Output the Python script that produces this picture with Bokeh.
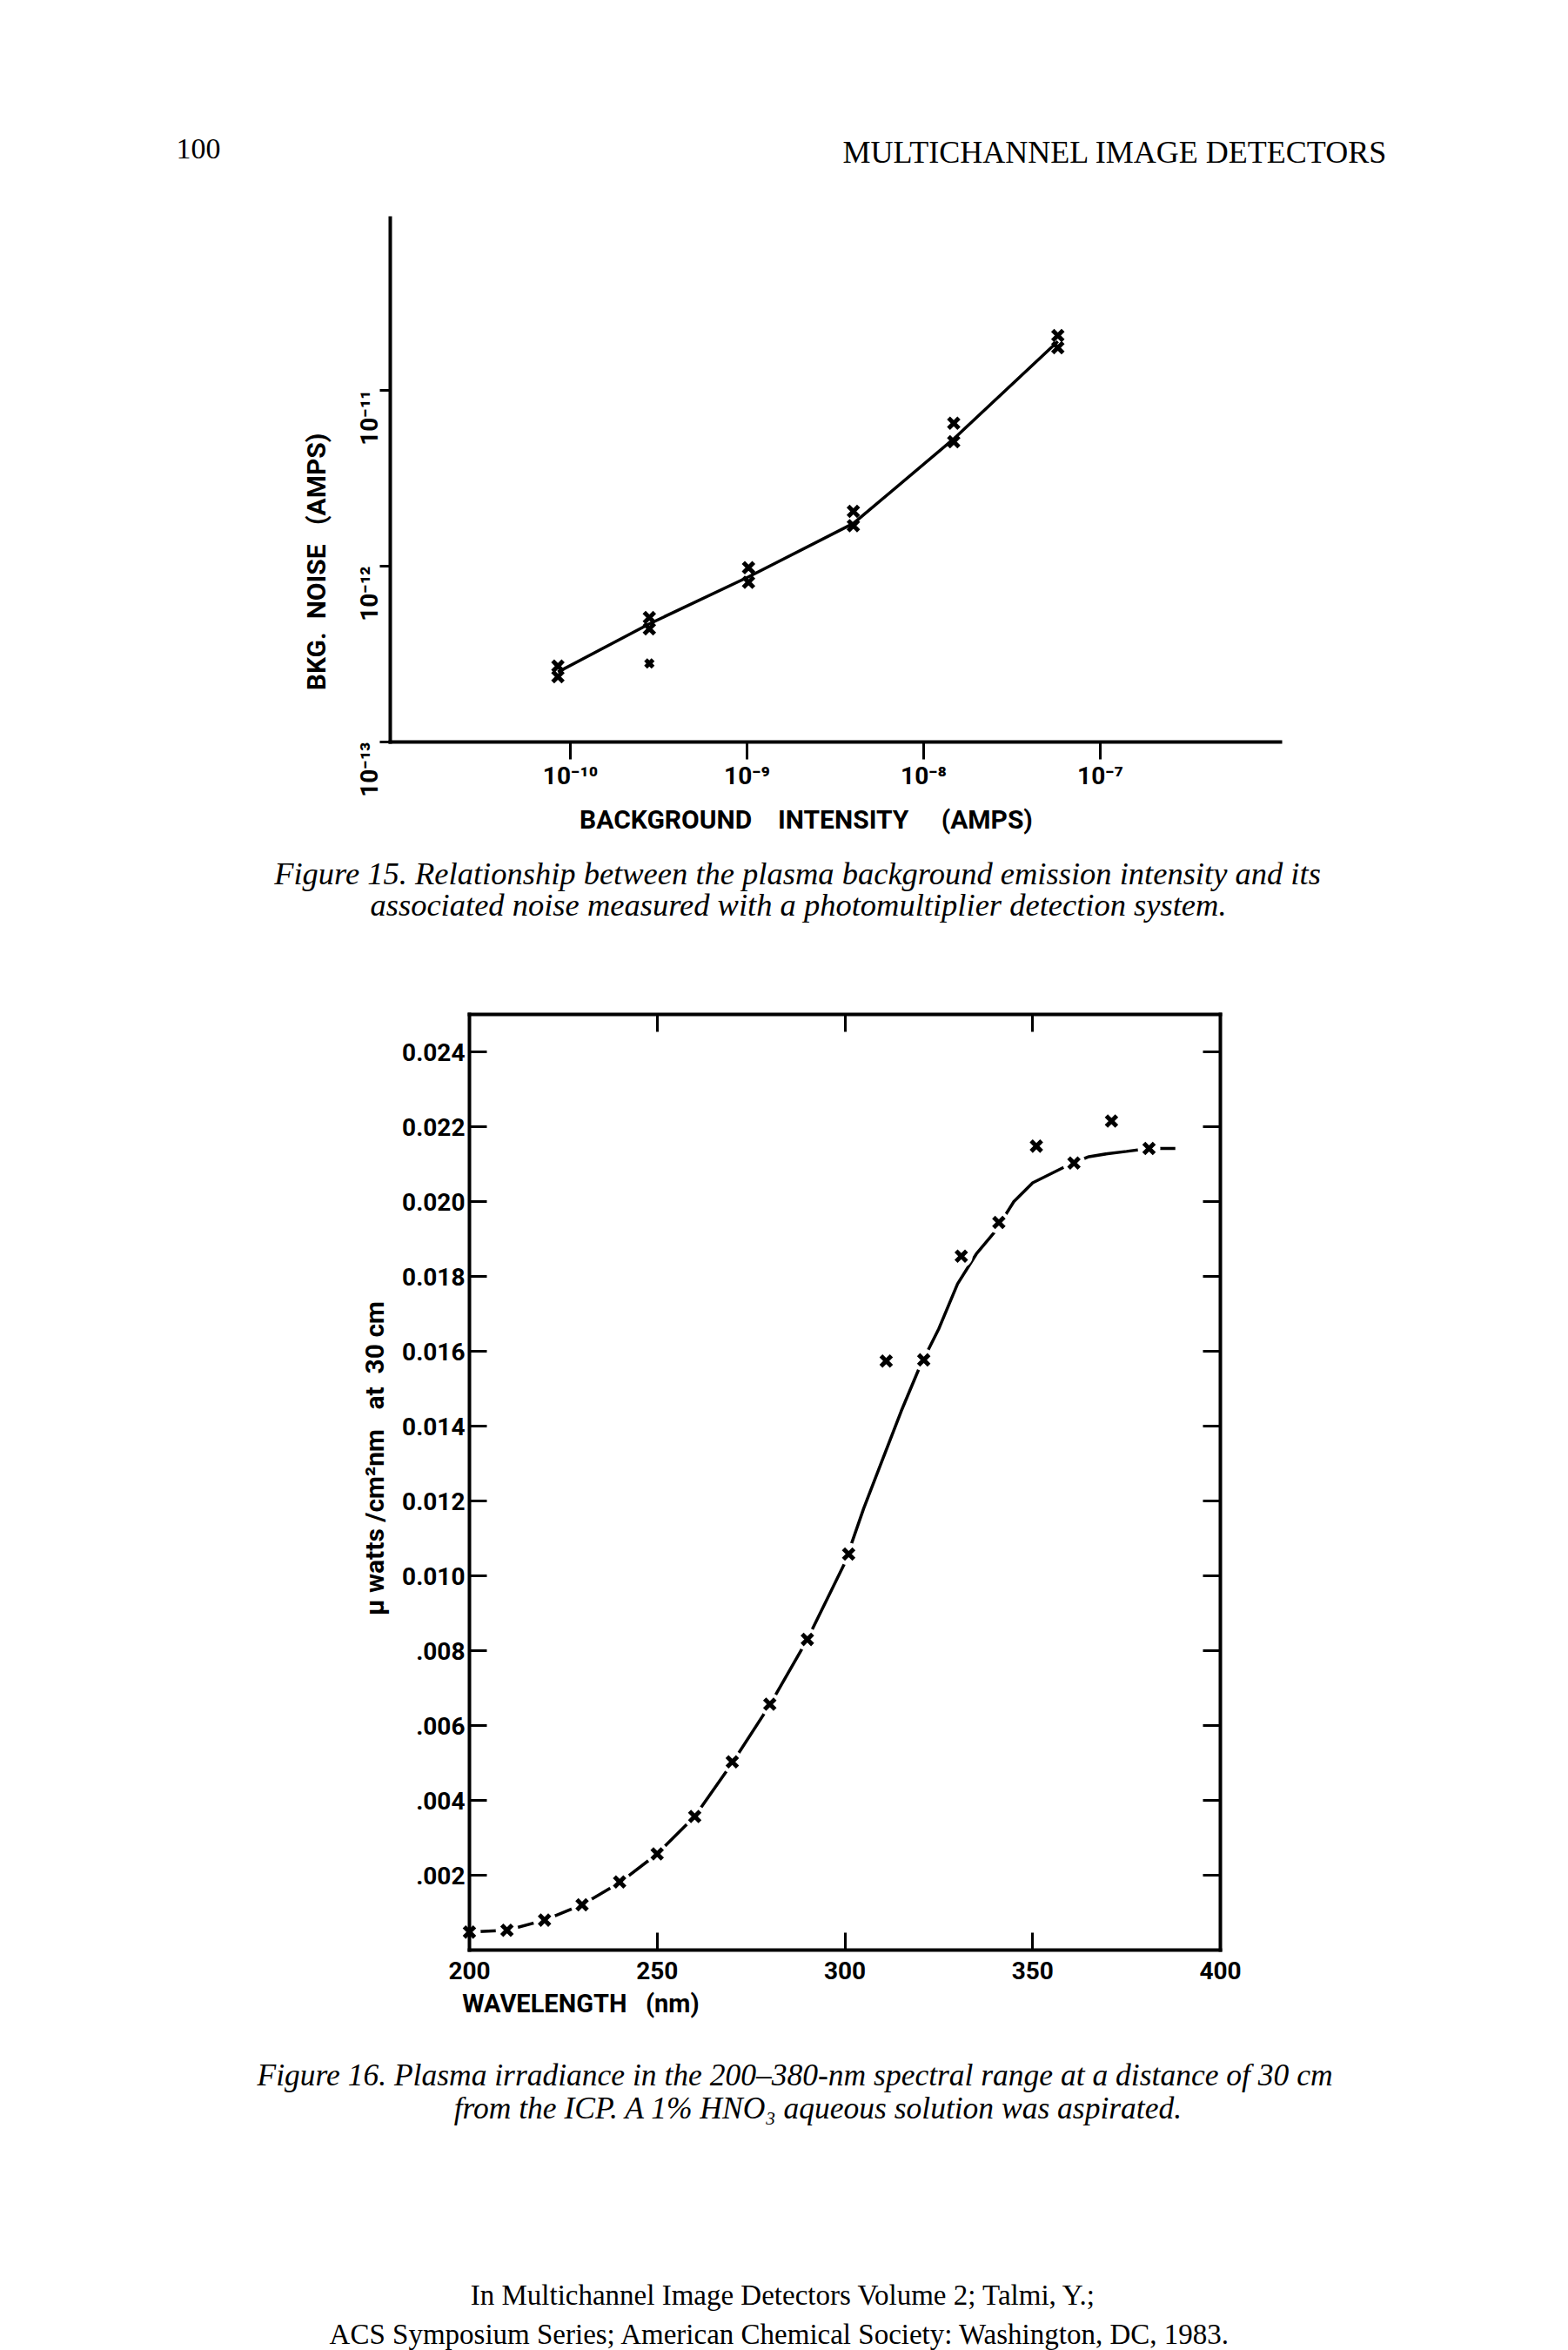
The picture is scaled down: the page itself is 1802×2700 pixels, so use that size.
import numpy as np
from bokeh.plotting import figure
from bokeh.layouts import column
from bokeh.models import Range1d, FixedTicker, CustomJSTickFormatter, Label, LinearAxis, LogAxis
from bokeh.core.properties import value
from bokeh.embed import file_html
from bokeh.resources import INLINE

# ---------------- Figure 15 data ----------------
bkg_intensity = [8.5e-11, 2.8e-10, 1.02e-9, 4.0e-9, 1.48e-8, 5.75e-8]      # amps
noise_line = [2.5e-13, 4.7e-13, 8.7e-13, 1.75e-12, 5.3e-12, 1.9e-11]      # fitted line
noise_upper = [2.7e-13, 5.1e-13, 9.8e-13, 2.05e-12, 6.5e-12, 2.05e-11]    # replicate 1
noise_lower = [2.35e-13, 4.4e-13, 8.1e-13, 1.7e-12, 5.1e-12, 1.75e-11]    # replicate 2
outlier_x = [2.8e-10]
outlier_y = [2.8e-13]
x15_ticks = [1e-10, 1e-9, 1e-8, 1e-7]
x15_labels = ["10\u207b\u00b9\u2070", "10\u207b\u2079", "10\u207b\u2078", "10\u207b\u2077"]
y15_ticks = [1e-13, 1e-12, 1e-11]
y15_labels = ["10\u207b\u00b9\u00b3", "10\u207b\u00b9\u00b2", "10\u207b\u00b9\u00b9"]

# ---------------- Figure 16 data ----------------
wl_points = [200, 210, 220, 230, 240, 250, 260, 270, 280, 290, 301, 311, 321, 331, 341, 351, 361, 371, 381]
irr_points = [0.00048, 0.00053, 0.00080, 0.00121, 0.00182, 0.00257, 0.00357, 0.00503, 0.00657,
              0.00830, 0.01058, 0.01574, 0.01577, 0.01854, 0.01944, 0.02148, 0.02103, 0.02215, 0.02142]
wl_curve = [200, 210, 220, 230, 240, 250, 260, 270, 280, 290, 300, 305, 310, 315, 320, 325, 330,
            335, 340, 345, 350, 355, 360, 365, 370, 375, 381, 388]
irr_curve = [0.00048, 0.00053, 0.00080, 0.00121, 0.00180, 0.00257, 0.00357, 0.00500, 0.00655,
             0.00830, 0.01035, 0.0118, 0.0131, 0.0144, 0.0156, 0.0166, 0.0178, 0.0186, 0.0192,
             0.0200, 0.0205, 0.02075, 0.0210, 0.0212, 0.02128, 0.02134, 0.02142, 0.02142]
x16_ticks = [200, 250, 300, 350, 400]
x16_labels = ["200", "250", "300", "350", "400"]
y16_ticks = [0.002, 0.004, 0.006, 0.008, 0.010, 0.012, 0.014, 0.016, 0.018, 0.020, 0.022, 0.024]
y16_labels = [".002", ".004", ".006", ".008", "0.010", "0.012", "0.014", "0.016", "0.018",
              "0.020", "0.022", "0.024"]

# ---------------- Page texts ----------------
page_number = "100"
running_head = "MULTICHANNEL IMAGE DETECTORS"
caption15 = ["Figure 15. Relationship between the plasma background emission intensity and its",
             "associated noise measured with a photomultiplier detection system."]
caption16 = ["Figure 16. Plasma irradiance in the 200\u2013380-nm spectral range at a distance of 30 cm",
             "from the ICP. A 1% HNO\u2083 aqueous solution was aspirated."]
footer = ["In Multichannel Image Detectors Volume 2; Talmi, Y.;",
          "ACS Symposium Series; American Chemical Society: Washington, DC, 1983."]

SANS = "Roboto"
SERIF = "Liberation Serif"
W = 1802
NB = "\u00a0"

LOG_FMT = """
let best = 0, d = Infinity;
for (let i = 0; i < vals.length; i++) {
  const e = Math.abs(Math.log10(tick) - Math.log10(vals[i]));
  if (e < d) { d = e; best = i; }
}
return labs[best];
"""
LIN_FMT = """
let best = 0, d = Infinity;
for (let i = 0; i < vals.length; i++) {
  const e = Math.abs(tick - vals[i]);
  if (e < d) { d = e; best = i; }
}
return labs[best];
"""


def base_fig(h, **kw):
    f = figure(width=W, height=h, output_backend="svg", toolbar_location=None,
               x_axis_location=None, y_axis_location=None, min_border=0, **kw)
    f.outline_line_color = None
    f.grid.visible = False
    return f


def text_fig(h):
    return base_fig(h, x_range=Range1d(0, W), y_range=Range1d(h, 0))


def style_axis(ax, size="26px"):
    ax.axis_line_width = 4
    ax.axis_line_cap = "square"
    ax.major_tick_line_width = 3
    ax.minor_tick_in = 0
    ax.minor_tick_out = 0
    ax.major_label_text_font = SANS
    ax.major_label_text_font_style = "bold"
    ax.major_label_text_font_size = size
    ax.major_label_text_color = "black"


# ---------------- header ----------------
header = text_fig(200)
header.text(x=[202], y=[170], text=[page_number], text_align="left", text_baseline="middle",
            text_font=value(SERIF), text_font_size="34px", text_color="black")
header.text(x=[1594], y=[174], text=[running_head], text_align="right", text_baseline="middle",
            text_font=value(SERIF), text_font_size="36px", text_color="black")

# ---------------- Figure 15 (page px: 10^-10 at x=655, 203 px/decade; 10^-13 at y=852, 202 px/decade) ----
H1 = 780
x15_lo = -10 - 655 / 203
y15_lo = -13 - (H1 - 652) / 202
p1 = base_fig(H1, x_axis_type="log", y_axis_type="log",
              x_range=Range1d(10 ** x15_lo, 10 ** (x15_lo + W / 203)),
              y_range=Range1d(10 ** y15_lo, 10 ** (y15_lo + H1 / 202)))
x15_left, x15_right, y15_top = 10 ** -11.02, 10 ** -5.98, 10 ** -10.02

xa = LogAxis(ticker=FixedTicker(ticks=x15_ticks),
             formatter=CustomJSTickFormatter(args=dict(vals=x15_ticks, labs=x15_labels), code=LOG_FMT),
             fixed_location=1e-13, bounds=(x15_left, x15_right))
style_axis(xa, "28px")
xa.major_tick_out = 20
xa.major_tick_in = 0
xa.major_label_standoff = 2
p1.add_layout(xa, "below")

ya = LogAxis(ticker=FixedTicker(ticks=y15_ticks),
             formatter=CustomJSTickFormatter(args=dict(vals=y15_ticks, labs=y15_labels), code=LOG_FMT),
             fixed_location=x15_left, bounds=(1e-13, y15_top))
style_axis(ya, "28px")
ya.major_tick_out = 12
ya.major_tick_in = 0
ya.major_label_standoff = 12
ya.major_label_orientation = np.pi / 2
p1.add_layout(ya, "left")

p1.line(bkg_intensity, noise_line, line_width=3.5, line_color="black")
p1.scatter(bkg_intensity, noise_upper, marker="x", size=17, line_width=5, line_color="black")
p1.scatter(bkg_intensity, noise_lower, marker="x", size=17, line_width=5, line_color="black")
p1.scatter(outlier_x, outlier_y, marker="x", size=12, line_width=5, line_color="black")

p1.add_layout(Label(x=10 ** -8.665, y=10 ** -13.44,
                    text="BACKGROUND" + NB * 4 + "INTENSITY" + NB * 5 + "(AMPS)",
                    text_align="center", text_baseline="middle", text_font=SANS,
                    text_font_style="bold", text_font_size="30px", text_color="black"))
p1.add_layout(Label(x=10 ** -11.44, y=10 ** -11.975, text="BKG." + NB * 2 + "NOISE" + NB * 3 + "(AMPS)",
                    angle=np.pi / 2,
                    text_align="center", text_baseline="middle", text_font=SANS,
                    text_font_style="bold", text_font_size="30px", text_color="black"))

# ---------------- caption 15 ----------------
cap15 = text_fig(120)
cap15.text(x=[916, 917], y=[23, 59], text=caption15, text_align="center", text_baseline="middle",
           text_font=value(SERIF), text_font_style="italic", text_font_size="36.5px", text_color="black")

# ---------------- Figure 16 (page px: 200 nm at x=539, 4.315 px/nm; 0 at y=2240, 43 px per 0.001) ----
H2 = 1240
PXN = 4.315
PXV = 43000.0
p2 = base_fig(H2, x_range=Range1d(200 - 539 / PXN, 200 + (W - 539) / PXN),
              y_range=Range1d(-100 / PXV, (H2 - 100) / PXV))

bx = LinearAxis(ticker=FixedTicker(ticks=x16_ticks),
                formatter=CustomJSTickFormatter(args=dict(vals=x16_ticks, labs=x16_labels), code=LIN_FMT),
                fixed_location=0, bounds=(200, 400))
style_axis(bx, "28px")
bx.major_tick_in = 20
bx.major_tick_out = 0
bx.major_label_standoff = 13
p2.add_layout(bx, "below")

ly = LinearAxis(ticker=FixedTicker(ticks=y16_ticks),
                formatter=CustomJSTickFormatter(args=dict(vals=y16_ticks, labs=y16_labels), code=LIN_FMT),
                fixed_location=200, bounds=(0, 0.025))
style_axis(ly, "28px")
ly.major_tick_in = 20
ly.major_tick_out = 0
ly.major_label_standoff = 5
p2.add_layout(ly, "left")

ta = LinearAxis(ticker=FixedTicker(ticks=[250, 300, 350]),
                formatter=CustomJSTickFormatter(code="return ''"),
                fixed_location=0.025, bounds=(200, 400))
style_axis(ta)
ta.major_tick_in = 20
ta.major_tick_out = 0
p2.add_layout(ta, "above")

ra = LinearAxis(ticker=FixedTicker(ticks=y16_ticks),
                formatter=CustomJSTickFormatter(code="return ''"),
                fixed_location=400, bounds=(0, 0.025))
style_axis(ra)
ra.major_tick_in = 20
ra.major_tick_out = 0
p2.add_layout(ra, "right")

p2.line(wl_curve, irr_curve, line_width=3.5, line_color="black")
p2.scatter(wl_points, irr_points, marker="circle", size=26, fill_color="white", line_color=None)
p2.scatter(wl_points, irr_points, marker="x", size=17, line_width=5, line_color="black")

p2.add_layout(Label(x=174.7, y=0.01314,
                    text="\u03bc" + NB + "watts" + NB + "/cm\u00b2nm" + NB * 3 + "at" + NB * 2 + "30" + NB + "cm",
                    angle=np.pi / 2,
                    text_align="center", text_baseline="middle", text_font=SANS,
                    text_font_style="bold", text_font_size="30px", text_color="black"))
p2.add_layout(Label(x=198.1, y=-0.00144, text="WAVELENGTH" + NB * 3 + "(nm)",
                    text_align="left", text_baseline="middle", text_font=SANS,
                    text_font_style="bold", text_font_size="29px", text_color="black"))

# ---------------- caption 16 ----------------
cap16 = text_fig(120)
cap16.text(x=[913, 940], y=[43, 81], text=caption16, text_align="center", text_baseline="middle",
           text_font=value(SERIF), text_font_style="italic", text_font_size="35.5px", text_color="black")

# ---------------- footer ----------------
foot = text_fig(240)
foot.text(x=[900, 896], y=[176, 221], text=footer, text_align="center", text_baseline="middle",
          text_font=value(SERIF), text_font_size="33px", text_color="black")

p = column(header, p1, cap15, p2, cap16, foot, spacing=0)
open("out.html", "w").write(file_html(p, INLINE))
